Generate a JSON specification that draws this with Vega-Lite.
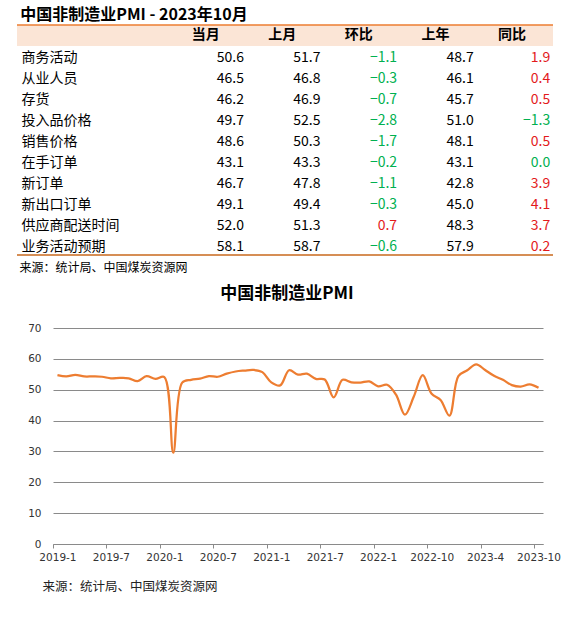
{
  "$schema": "https://vega.github.io/schema/vega-lite/v6.json",
  "background": "white",
  "padding": {"left": 16, "top": 7, "right": 0, "bottom": 12},
  "columns": 1,
  "spacing": 12,
  "config": {
    "view": {"stroke": null},
    "font": "Noto Sans CJK SC"
  },
  "concat": [
    {
      "width": 536,
      "height": 230,
      "title": {
        "text": "中国非制造业PMI - 2023年10月",
        "anchor": "start",
        "fontSize": 16,
        "fontWeight": "bold",
        "color": "#000000",
        "font": "Noto Sans CJK SC",
        "dx": 4,
        "offset": 1
      },
      "layer": [
        {
          "data": {"values": [{}]},
          "mark": {"type": "rect", "color": "#FBE5D6"},
          "encoding": {
            "y": {
              "datum": "header",
              "type": "nominal",
              "scale": {"domain": ["header", "商务活动", "从业人员", "存货", "投入品价格", "销售价格", "在手订单", "新订单", "新出口订单", "供应商配送时间", "业务活动预期"], "type": "band", "paddingInner": 0, "paddingOuter": 0}
            }
          }
        },
        {
          "data": {"values": [{}]},
          "mark": {"type": "rule", "color": "#ED7D31", "strokeWidth": 1.5},
          "encoding": {
            "y": {"datum": "header", "type": "nominal", "bandPosition": 0}
          }
        },
        {
          "data": {"values": [{}]},
          "mark": {"type": "rule", "color": "#C8691C", "strokeWidth": 1.5},
          "encoding": {
            "y": {"datum": "业务活动预期", "type": "nominal", "bandPosition": 1}
          }
        },
        {
          "data": {"values": [{"key": "当月"}, {"key": "上月"}, {"key": "环比"}, {"key": "上年"}, {"key": "同比"}]},
          "mark": {"type": "text", "align": "center", "baseline": "middle", "fontSize": 14, "fontWeight": "bold", "font": "Noto Sans CJK SC", "color": "#000000"},
          "encoding": {
            "x": {
              "field": "key",
              "type": "nominal",
              "sort": null,
              "scale": {"type": "band", "domain": ["当月", "上月", "环比", "上年", "同比"], "paddingInner": 0, "paddingOuter": 1.1216, "align": 0.982},
              "axis": {"orient": "bottom", "labels": false, "ticks": false, "domain": false, "title": "来源：统计局、中国煤炭资源网", "titleFont": "Noto Sans CJK SC", "titleFontSize": 12, "titleFontWeight": "normal", "titleColor": "#000000", "titleAnchor": "start", "titleAlign": "left", "titleX": 2, "titlePadding": 7}
            },
            "y": {"datum": "header", "type": "nominal"},
            "text": {"field": "key", "type": "nominal"}
          }
        },
        {
          "data": {
            "values": [
              {"name": "商务活动", "当月": 50.6, "上月": 51.7, "环比": -1.1, "上年": 48.7, "同比": 1.9},
              {"name": "从业人员", "当月": 46.5, "上月": 46.8, "环比": -0.3, "上年": 46.1, "同比": 0.4},
              {"name": "存货", "当月": 46.2, "上月": 46.9, "环比": -0.7, "上年": 45.7, "同比": 0.5},
              {"name": "投入品价格", "当月": 49.7, "上月": 52.5, "环比": -2.8, "上年": 51.0, "同比": -1.3},
              {"name": "销售价格", "当月": 48.6, "上月": 50.3, "环比": -1.7, "上年": 48.1, "同比": 0.5},
              {"name": "在手订单", "当月": 43.1, "上月": 43.3, "环比": -0.2, "上年": 43.1, "同比": 0.0},
              {"name": "新订单", "当月": 46.7, "上月": 47.8, "环比": -1.1, "上年": 42.8, "同比": 3.9},
              {"name": "新出口订单", "当月": 49.1, "上月": 49.4, "环比": -0.3, "上年": 45.0, "同比": 4.1},
              {"name": "供应商配送时间", "当月": 52.0, "上月": 51.3, "环比": 0.7, "上年": 48.3, "同比": 3.7},
              {"name": "业务活动预期", "当月": 58.1, "上月": 58.7, "环比": -0.6, "上年": 57.9, "同比": 0.2}
            ]
          },
          "transform": [{"fold": ["当月", "上月", "环比", "上年", "同比"], "as": ["key", "value"]}],
          "mark": {"type": "text", "align": "right", "baseline": "middle", "fontSize": 14, "font": "Noto Sans CJK SC", "dy": 2},
          "encoding": {
            "x": {
              "field": "key",
              "type": "nominal",
              "sort": null,
              "bandPosition": 1,
              "scale": {"type": "band", "domain": ["当月", "上月", "环比", "上年", "同比"], "paddingInner": 0, "paddingOuter": 1.1216, "align": 0.982},
              "axis": {"orient": "bottom", "labels": false, "ticks": false, "domain": false, "title": "来源：统计局、中国煤炭资源网", "titleFont": "Noto Sans CJK SC", "titleFontSize": 12, "titleFontWeight": "normal", "titleColor": "#000000", "titleAnchor": "start", "titleAlign": "left", "titleX": 2, "titlePadding": 7}
            },
            "y": {
              "field": "name",
              "type": "nominal",
              "sort": null,
              "scale": {"domain": ["header", "商务活动", "从业人员", "存货", "投入品价格", "销售价格", "在手订单", "新订单", "新出口订单", "供应商配送时间", "业务活动预期"], "type": "band", "paddingInner": 0, "paddingOuter": 0},
              "axis": {"orient": "left", "domain": false, "ticks": false, "tickSize": 0, "labelAlign": "left", "labelBaseline": "middle", "labelPadding": -4, "labelOffset": 2, "labelFont": "Noto Sans CJK SC", "labelFontSize": 14, "labelColor": "#000000", "labelLimit": 300, "labelExpr": "datum.value == 'header' ? '' : datum.value", "title": null}
            },
            "text": {"field": "value", "type": "quantitative", "format": ".1f"},
            "color": {
              "condition": [
                {"test": "(datum.key == '环比' || datum.key == '同比') && datum.value > 0", "value": "#E31A1C"},
                {"test": "datum.key == '环比' || datum.key == '同比'", "value": "#00B050"}
              ],
              "value": "#000000"
            }
          }
        }
      ]
    },
    {
      "spacing": 0,
      "hconcat": [
        {
          "width": 1,
          "height": 10,
          "data": {"values": []},
          "mark": "point",
          "encoding": {}
        },
        {
          "width": 490,
          "height": 216,
          "title": {
            "text": "中国非制造业PMI",
            "anchor": "middle",
            "frame": "group",
            "fontSize": 17,
            "fontWeight": "bold",
            "color": "#000000",
            "font": "Noto Sans CJK SC",
            "dx": -11,
            "offset": 20
          },
          "data": {
            "values": [
              {"month": "2019-1", "pmi": 54.7}, {"month": "2019-2", "pmi": 54.3}, {"month": "2019-3", "pmi": 54.8},
              {"month": "2019-4", "pmi": 54.3}, {"month": "2019-5", "pmi": 54.3}, {"month": "2019-6", "pmi": 54.2},
              {"month": "2019-7", "pmi": 53.7}, {"month": "2019-8", "pmi": 53.8}, {"month": "2019-9", "pmi": 53.7},
              {"month": "2019-10", "pmi": 52.8}, {"month": "2019-11", "pmi": 54.4}, {"month": "2019-12", "pmi": 53.5},
              {"month": "2020-1", "pmi": 54.1}, {"month": "2020-2", "pmi": 29.6}, {"month": "2020-3", "pmi": 52.3},
              {"month": "2020-4", "pmi": 53.2}, {"month": "2020-5", "pmi": 53.6}, {"month": "2020-6", "pmi": 54.4},
              {"month": "2020-7", "pmi": 54.2}, {"month": "2020-8", "pmi": 55.2}, {"month": "2020-9", "pmi": 55.9},
              {"month": "2020-10", "pmi": 56.2}, {"month": "2020-11", "pmi": 56.4}, {"month": "2020-12", "pmi": 55.7},
              {"month": "2021-1", "pmi": 52.4}, {"month": "2021-2", "pmi": 51.4}, {"month": "2021-3", "pmi": 56.3},
              {"month": "2021-4", "pmi": 54.9}, {"month": "2021-5", "pmi": 55.2}, {"month": "2021-6", "pmi": 53.5},
              {"month": "2021-7", "pmi": 53.3}, {"month": "2021-8", "pmi": 47.5}, {"month": "2021-9", "pmi": 53.2},
              {"month": "2021-10", "pmi": 52.4}, {"month": "2021-11", "pmi": 52.3}, {"month": "2021-12", "pmi": 52.7},
              {"month": "2022-1", "pmi": 51.1}, {"month": "2022-2", "pmi": 51.6}, {"month": "2022-3", "pmi": 48.4},
              {"month": "2022-4", "pmi": 41.9}, {"month": "2022-5", "pmi": 47.8}, {"month": "2022-6", "pmi": 54.7},
              {"month": "2022-10", "pmi": 48.7}, {"month": "2022-11", "pmi": 46.7}, {"month": "2022-12", "pmi": 41.6},
              {"month": "2023-1", "pmi": 54.4}, {"month": "2023-2", "pmi": 56.3}, {"month": "2023-3", "pmi": 58.2},
              {"month": "2023-4", "pmi": 56.4}, {"month": "2023-5", "pmi": 54.5}, {"month": "2023-6", "pmi": 53.2},
              {"month": "2023-7", "pmi": 51.5}, {"month": "2023-8", "pmi": 51.0}, {"month": "2023-9", "pmi": 51.7},
              {"month": "2023-10", "pmi": 50.6}
            ]
          },
          "mark": {"type": "line", "color": "#ED7D31", "strokeWidth": 2.25, "interpolate": "catmull-rom"},
          "encoding": {
            "x": {
              "field": "month",
              "type": "ordinal",
              "sort": null,
              "scale": {"type": "point", "padding": 0.5},
              "axis": {
                "values": ["2019-1", "2019-7", "2020-1", "2020-7", "2021-1", "2021-7", "2022-1", "2022-10", "2023-4", "2023-10"],
                "labelAngle": 0,
                "labelOverlap": false,
                "labelFlush": false,
                "labelFont": "DejaVu Sans",
                "labelFontSize": 10.5,
                "labelColor": "#333333",
                "labelPadding": 4,
                "tickOffset": -4.45,
                "labelOffset": 4.45,
                "tickSize": 4,
                "tickColor": "#8a8a8a",
                "domainColor": "#8a8a8a",
                "grid": false,
                "title": "来源：统计局、中国煤炭资源网",
                "titleFont": "Noto Sans CJK SC",
                "titleFontSize": 12.5,
                "titleFontWeight": "normal",
                "titleColor": "#222222",
                "titleAnchor": "start",
                "titleAlign": "left",
                "titleX": -11,
                "titlePadding": 18
              }
            },
            "y": {
              "field": "pmi",
              "type": "quantitative",
              "scale": {"domain": [0, 70]},
              "axis": {
                "values": [0, 10, 20, 30, 40, 50, 60, 70],
                "grid": true,
                "gridColor": "#8a8a8a",
                "domain": false,
                "ticks": false,
                "labelFont": "DejaVu Sans",
                "labelFontSize": 10.5,
                "labelColor": "#333333",
                "labelPadding": 12,
                "minExtent": 35,
                "title": null
              }
            }
          }
        }
      ]
    }
  ]
}
